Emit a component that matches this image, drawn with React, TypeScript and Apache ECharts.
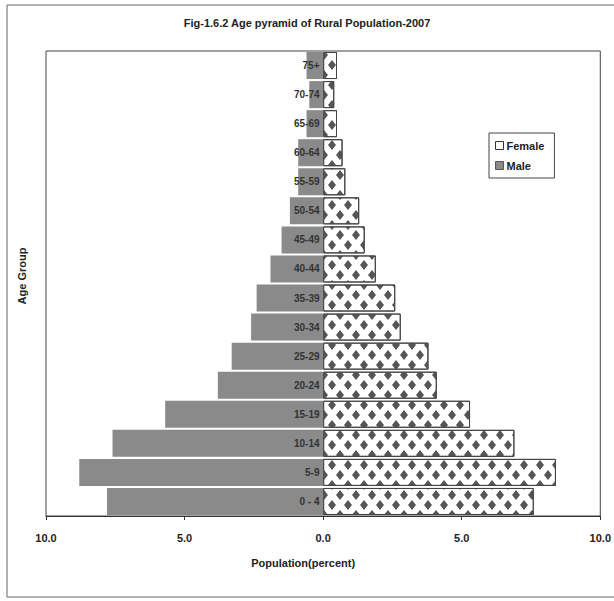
import React, { useEffect, useRef } from "react";
import * as echarts from "echarts";

const categories = ["0 - 4", "5-9", "10-14", "15-19", "20-24", "25-29", "30-34", "35-39", "40-44", "45-49", "50-54", "55-59", "60-64", "65-69", "70-74", "75+"];
const maleValues = [7.8, 8.8, 7.6, 5.7, 3.8, 3.3, 2.6, 2.4, 1.9, 1.5, 1.2, 0.9, 0.9, 0.6, 0.5, 0.6];
const femaleValues = [7.6, 8.4, 6.9, 5.3, 4.1, 3.8, 2.8, 2.6, 1.9, 1.5, 1.3, 0.8, 0.7, 0.5, 0.4, 0.5];
const xTicks = [-10, -5, 0, 5, 10];

const FONT = "'Liberation Sans', Arial, sans-serif";

export default function App() {
  const ref = useRef<HTMLDivElement>(null);
  useEffect(() => {
    document.body.style.margin = "0";
    const chart = echarts.init(ref.current!, null, { renderer: "svg" });
    const gridLeft = 46;
    const gridRight = 11;
    const gridWidth = 614 - gridLeft - gridRight;
    chart.setOption({
      animation: false,
      backgroundColor: "#ffffff",
      title: {
        text: "Fig-1.6.2 Age pyramid of Rural Population-2007",
        left: "center",
        top: 12,
        textStyle: { fontFamily: FONT, fontSize: 11, fontWeight: "bold", color: "#222" },
      },
      legend: {
        orient: "vertical",
        left: 489,
        top: 133,
        padding: [7, 10, 7, 6],
        itemGap: 9,
        itemWidth: 8,
        itemHeight: 8,
        borderColor: "#444",
        borderWidth: 1,
        textStyle: { fontFamily: FONT, fontSize: 11, fontWeight: "bold", color: "#222", padding: [0, 0, 0, -2] },
        data: [
          { name: "Female", icon: "rect", itemStyle: { color: "#ffffff", borderColor: "#333", borderWidth: 1, decal: "none" } },
          { name: "Male", icon: "rect", itemStyle: { color: "#8a8a8a", borderColor: "#555", borderWidth: 1, decal: "none" } },
        ],
      },
      grid: {
        left: gridLeft,
        right: gridRight,
        top: 51,
        bottom: 85,
        show: true,
        borderColor: "#444",
        borderWidth: 1,
        backgroundColor: "transparent",
      },
      xAxis: {
        type: "value",
        min: xTicks[0],
        max: xTicks[xTicks.length - 1],
        interval: 5,
        name: "Population(percent)",
        nameLocation: "middle",
        nameGap: 41,
        nameTextStyle: { fontFamily: FONT, fontSize: 11, fontWeight: "bold", color: "#222", padding: [0, 40, 0, 0] },
        axisLine: { show: true, lineStyle: { color: "#333", width: 1 } },
        axisTick: { show: true, length: 4, lineStyle: { color: "#333" } },
        splitLine: { show: false },
        axisLabel: {
          fontFamily: FONT,
          fontSize: 11,
          fontWeight: "bold",
          color: "#222",
          margin: 16,
          formatter: (v: number) => Math.abs(v).toFixed(1),
        },
      },
      yAxis: {
        type: "category",
        data: categories,
        z: 10,
        offset: -gridWidth / 2,
        axisLine: { show: false },
        axisTick: { show: false },
        axisLabel: {
          fontFamily: FONT,
          fontSize: 10,
          fontWeight: "bold",
          color: "#333",
          margin: 5,
        },
      },
      series: [
        {
          name: "Female",
          type: "bar",
          data: femaleValues,
          barGap: "-100%",
          barCategoryGap: "7%",
          itemStyle: {
            color: "#ffffff",
            borderColor: "#444",
            borderWidth: 1,
            decal: {
              symbol: "diamond",
              symbolSize: 1,
              symbolKeepAspect: false,
              color: "#555555",
              dashArrayX: [[8, 8], [0, 8, 8, 0]],
              dashArrayY: [10, 0],
            },
          },
        },
        {
          name: "Male",
          type: "bar",
          data: maleValues.map((v) => -v),
          barGap: "-100%",
          barCategoryGap: "7%",
          itemStyle: { color: "#8a8a8a" },
        },
      ],
      graphic: [
        {
          type: "rect",
          shape: { x: 7, y: 5, width: 620, height: 592 },
          style: { fill: "none", stroke: "#666", lineWidth: 1 },
          silent: true,
        },
        {
          type: "text",
          x: 16,
          y: 276,
          rotation: Math.PI / 2,
          style: {
            text: "Age Group",
            fontFamily: FONT,
            fontSize: 11,
            fontWeight: "bold",
            fill: "#222",
            align: "center",
            verticalAlign: "top",
          },
        },
      ],
    });
    return () => chart.dispose();
  }, []);
  return <div ref={ref} style={{ width: 614, height: 601 }} />;
}
